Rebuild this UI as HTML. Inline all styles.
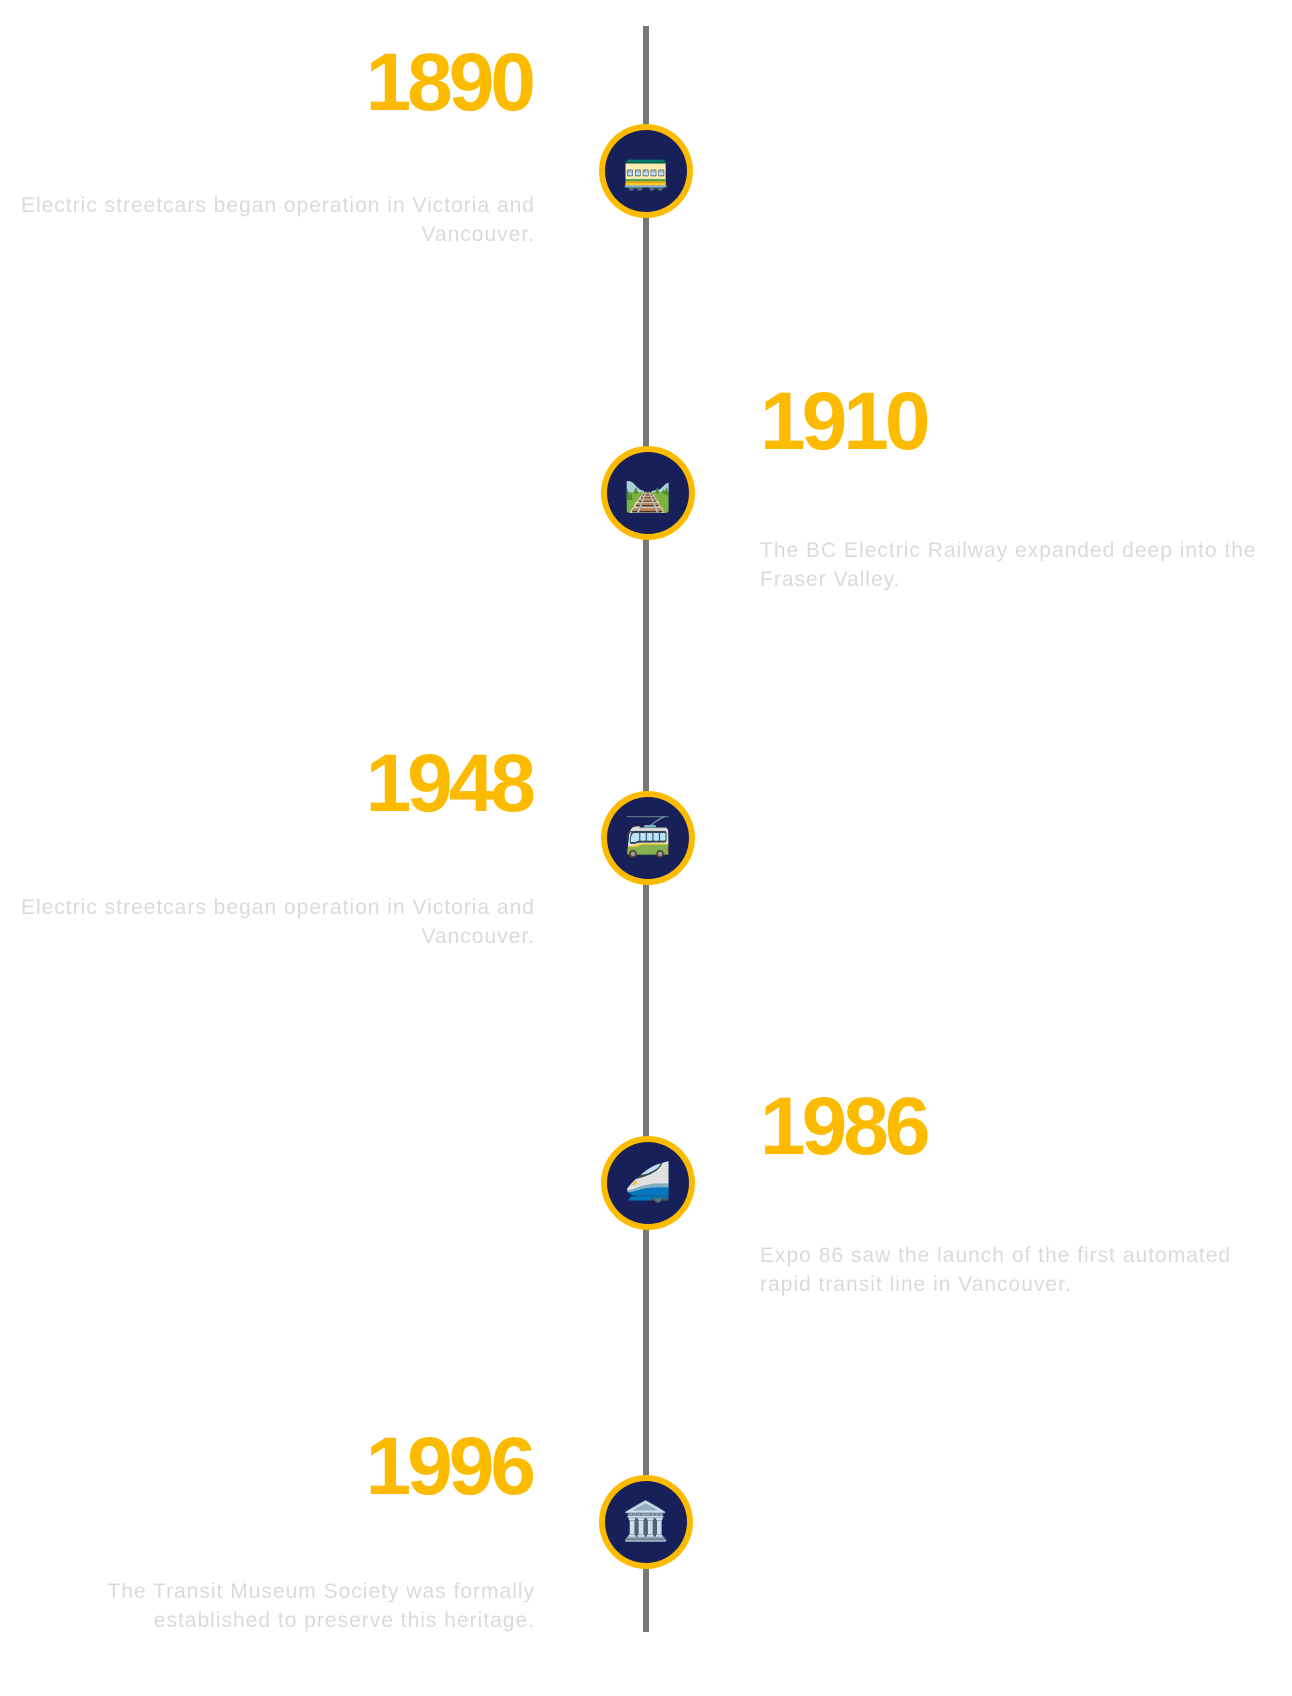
<!DOCTYPE html>
<html><head><meta charset="utf-8"><style>
html,body{margin:0;padding:0;background:#fff;width:1292px;height:1696px;overflow:hidden;position:relative;font-family:"Liberation Sans",sans-serif}
.line{position:absolute;left:643px;top:26px;width:6px;height:1606px;background:#777}
.c{position:absolute;width:82px;height:82px;border:6px solid #fdbb00;border-radius:50%;background:#18205a;display:flex;align-items:center;justify-content:center;font-size:38px;line-height:1}
.y{position:absolute;font-weight:bold;color:#fdbb00;font-size:82px;line-height:82px;letter-spacing:-4px}
.L{right:760px;text-align:right}
.R{left:760px;text-align:left}
.t{position:absolute;color:#dadada;font-size:21px;line-height:29px;letter-spacing:1px}
.tl{right:757px;width:620px;text-align:right}
.tr{left:760px;width:540px}
</style></head><body>
<div class="line"></div>

<div class="y L" style="top:42px">1890</div>
<div class="t tl" style="top:191px">Electric streetcars began operation in Victoria and<br>Vancouver.</div>
<div class="c" style="left:599px;top:124px">🚃</div>

<div class="y R" style="top:381px">1910</div>
<div class="t tr" style="top:536px">The BC Electric Railway expanded deep into the<br>Fraser Valley.</div>
<div class="c" style="left:601px;top:446px">🛤️</div>

<div class="y L" style="top:743px">1948</div>
<div class="t tl" style="top:893px">Electric streetcars began operation in Victoria and<br>Vancouver.</div>
<div class="c" style="left:601px;top:791px">🚎</div>

<div class="y R" style="top:1086px">1986</div>
<div class="t tr" style="top:1241px">Expo 86 saw the launch of the first automated<br>rapid transit line in Vancouver.</div>
<div class="c" style="left:601px;top:1136px">🚄</div>

<div class="y L" style="top:1426px">1996</div>
<div class="t tl" style="top:1577px">The Transit Museum Society was formally<br>established to preserve this heritage.</div>
<div class="c" style="left:599px;top:1475px">🏛️</div>
</body></html>
